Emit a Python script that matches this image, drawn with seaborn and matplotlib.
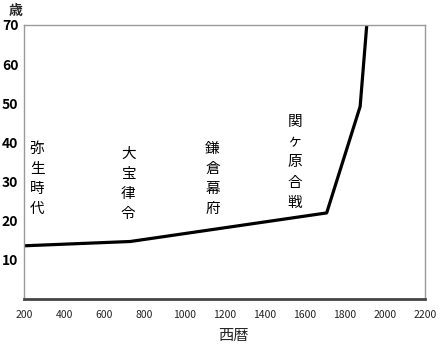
import matplotlib
matplotlib.use("Agg")
import matplotlib.pyplot as plt
import seaborn as sns
import pandas as pd

years = [200, 730, 1710, 1877, 1910]
ages = [13.6, 14.7, 22.0, 49.2, 70.0]
events = ["弥生時代", "大宝律令", "鎌倉幕府", "関ヶ原合戦"]
event_x = [265, 720, 1140, 1550]
event_top = [40.2, 39.0, 40.2, 47.0]
x_ticks = list(range(200, 2201, 200))
y_ticks = [10, 20, 30, 40, 50, 60, 70]

sns.set_style("white")
plt.rcParams['font.family'] = ['Noto Sans CJK JP', 'DejaVu Sans']

fig = plt.figure(figsize=(4.42, 3.51), dpi=100)
ax = fig.add_axes([0.0543, 0.148, 0.907, 0.7808])

df = pd.DataFrame({"year": years, "age": ages})
sns.lineplot(data=df, x="year", y="age", ax=ax, color="black", linewidth=2.3, sort=False)

for name, xx, yy in zip(events, event_x, event_top):
    ax.text(xx, yy, "\n".join(name), ha="center", va="top", fontsize=10.5,
            linespacing=1.56, color="black")

ax.set_xlim(200, 2200)
ax.set_ylim(0, 70)
ax.set_xticks(x_ticks)
ax.set_xticklabels([str(v) for v in x_ticks], fontsize=7.5, color="#222222")
ax.set_yticks(y_ticks)
ax.set_yticklabels([str(v) for v in y_ticks], fontsize=10, fontweight="bold", color="black")
ax.tick_params(axis="x", direction="in", length=4, width=1, color="#333333", pad=8)
ax.tick_params(axis="y", direction="out", length=3, width=1, color="#999999", pad=1)
ax.set_xlabel("")
ax.set_ylabel("")
for s in ["top", "right", "left"]:
    ax.spines[s].set_color("#999999")
    ax.spines[s].set_linewidth(1)
ax.spines["bottom"].set_color("#444444")
ax.spines["bottom"].set_linewidth(2)

fig.text(0.035, 0.968, "歳", fontsize=10, fontweight="bold", ha="center", va="center")
fig.text(0.527, 0.045, "西暦", fontsize=11, ha="center", va="center")

fig.savefig("out.png", dpi=100)
